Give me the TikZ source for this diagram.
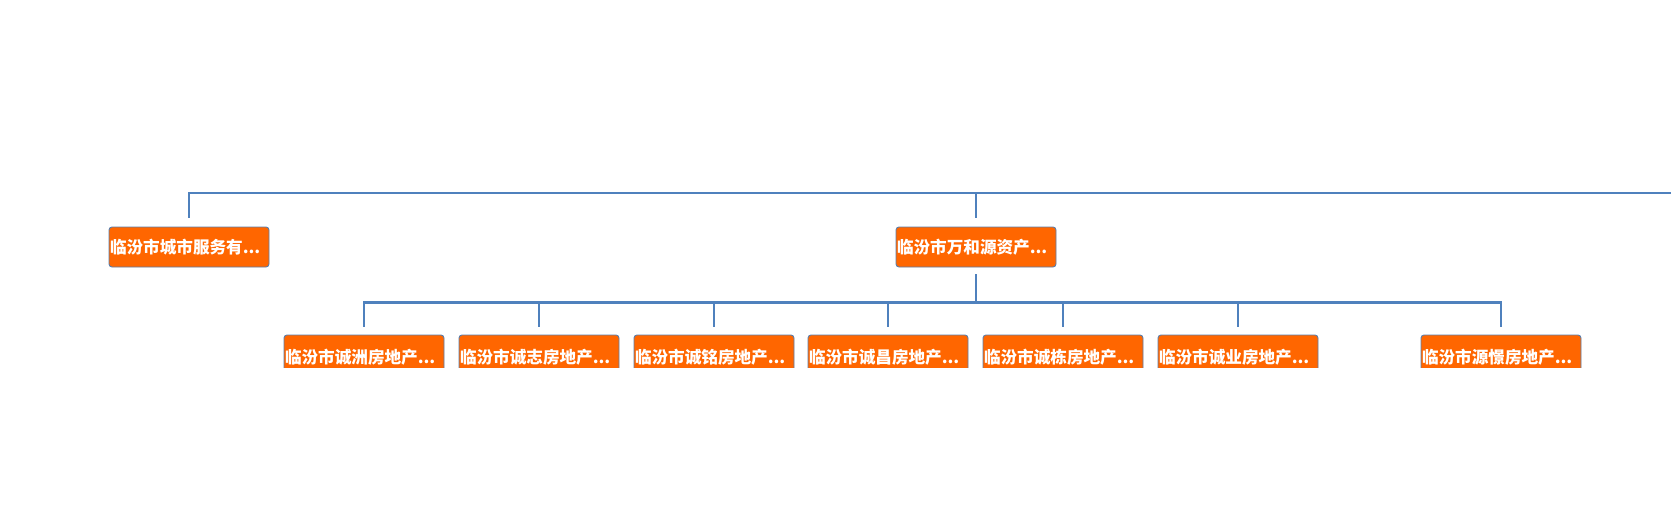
\documentclass[tikz,border=0pt]{standalone}
\usepackage{fontspec}
\newfontfamily\cjk{Noto Sans CJK SC}
\definecolor{lineblue}{RGB}{79,129,189}
\definecolor{boxorange}{RGB}{255,102,0}
\definecolor{boxedge}{RGB}{90,125,170}
\begin{document}
\begin{tikzpicture}[x=1pt,y=1pt,
  conn/.style={draw=lineblue,line width=2.7pt},
  orgbox/.style={draw=boxedge,line width=0.9pt,fill=boxorange,rounded corners=3pt,
    minimum width=160pt,minimum height=40pt,inner sep=1pt,text width=158pt,align=left,
    text=white,font=\cjk\bfseries\fontsize{16.6}{19}\selectfont},
  subbox/.style={orgbox,minimum height=44pt}]
\useasboundingbox[fill=white] (0,0) rectangle (1671,-515);
\node[orgbox] (A) at (189,-247) {临汾市城市服务有...};
\node[orgbox] (B) at (976,-247) {临汾市万和源资产...};
\begin{scope}
\clip (0,-300) rectangle (1671,-367);
\node[subbox] (C1) at (364,-357) {临汾市诚洲房地产...};
\node[subbox] (C2) at (539,-357) {临汾市诚志房地产...};
\node[subbox] (C3) at (714,-357) {临汾市诚铭房地产...};
\node[subbox] (C4) at (888,-357) {临汾市诚昌房地产...};
\node[subbox] (C5) at (1063,-357) {临汾市诚栋房地产...};
\node[subbox] (C6) at (1238,-357) {临汾市诚业房地产...};
\node[subbox] (C7) at (1501,-357) {临汾市源憬房地产...};
\end{scope}
\coordinate (E) at (1671,-193);
\coordinate (H) at (0,-302.5);
\draw[conn] ([yshift=9pt]A.north) |- (E);
\draw[conn] ([yshift=9pt]B.north) -- (B.north |- E);
\draw[conn] ([yshift=-7pt]B.south) -- (B.south |- H);
\foreach \c in {C1,C2,C3,C4,C5,C6,C7}{
  \draw[conn] ([yshift=8pt]\c.north) |- (B.south |- H);
}
\end{tikzpicture}
\end{document}
